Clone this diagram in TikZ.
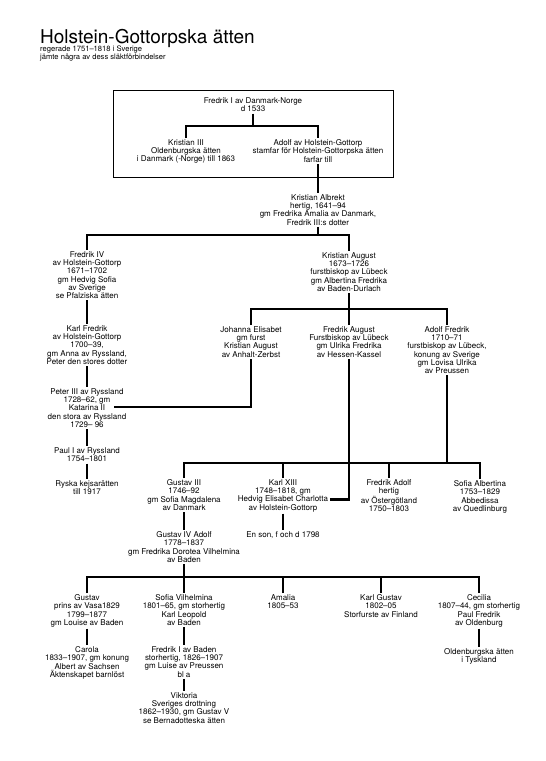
\documentclass[tikz,border=0pt]{standalone}
\usepackage{fontspec}
\setmainfont{TeX Gyre Heros}
\begin{document}
\begin{tikzpicture}[x=1pt,y=-1pt,
  every node/.style={font=\fontsize{8}{8.2}\selectfont, align=center, inner sep=1.5pt},
  person/.style={anchor=north},
  conn/.style={line width=2.8pt},
  frame/.style={draw, line width=0.9pt, minimum width=280pt, minimum height=87pt, inner sep=0pt}]
\useasboundingbox (0,0) rectangle (546,761);
% title
\node[anchor=base west, inner sep=0pt, font=\fontsize{19}{20}\selectfont] (title) at (40,43) {Holstein-Gottorpska ätten};
\node[anchor=north west, inner sep=0pt, align=left, font=\fontsize{7.6}{7.4}\selectfont] (subtitle) at (40,46) {regerade 1751–1818 i Sverige\\jämte några av dess släktförbindelser};
% frame
\node[frame] (box) at (253,133.5) {};
% bar levels
\coordinate (b1) at (0,126);
\coordinate (b2) at (0,235);
\coordinate (b3) at (0,309);
\coordinate (b4) at (0,463);
\coordinate (b5) at (0,577);
% people
\node[person] (fredrikI) at (253,96) {Fredrik I av Danmark-Norge\\d 1533};
\node[person] (kristian3) at (186,138) {Kristian III\\Oldenburgska ätten\\i Danmark (-Norge) till 1863};
\node[person] (adolf) at (318,138) {Adolf av Holstein-Gottorp\\stamfar för Holstein-Gottorpska ätten\\farfar till};
\node[person] (kalbrekt) at (318,193) {Kristian Albrekt\\hertig, 1641–94\\gm Fredrika Amalia av Danmark,\\Fredrik III:s dotter};
\node[person] (fredrik4) at (87,250) {Fredrik IV\\av Holstein-Gottorp\\1671–1702\\gm Hedvig Sofia\\av Sverige\\se Pfalziska ätten};
\node[person] (kaugust) at (349,251) {Kristian August\\1673–1726\\furstbiskop av Lübeck\\gm Albertina Fredrika\\av Baden-Durlach};
\node[person] (karlfredrik) at (87,324) {Karl Fredrik\\av Holstein-Gottorp\\1700–39,\\gm Anna av Ryssland,\\Peter den stores dotter};
\node[person] (johanna) at (251,325) {Johanna Elisabet\\gm furst\\Kristian August\\av Anhalt-Zerbst};
\node[person] (faugust) at (349,325) {Fredrik August\\Furstbiskop av Lübeck\\gm Ulrika Fredrika\\av Hessen-Kassel};
\node[person] (afredrik) at (447,325) {Adolf Fredrik\\1710–71\\furstbiskop av Lübeck,\\konung av Sverige\\gm Lovisa Ulrika\\av Preussen};
\node[person] (peter3) at (87,387) {Peter III av Ryssland\\1728–62, gm\\Katarina II\\den stora av Ryssland\\1729– 96};
\node[person] (paul1) at (87,446) {Paul I av Ryssland\\1754–1801};
\node[person] (ryska) at (87,479) {Ryska kejsarätten\\till 1917};
\node[person] (gustav3) at (184,478) {Gustav III\\1746–92\\gm Sofia Magdalena\\av Danmark};
\node[person] (karl13) at (283,478) {Karl XIII\\1748–1818, gm\\Hedvig Elisabet Charlotta\\av Holstein-Gottorp};
\node[person] (fadolf) at (389,478) {Fredrik Adolf\\hertig\\av Östergötland\\1750–1803};
\node[person] (sofiaalb) at (480,479) {Sofia Albertina\\1753–1829\\Abbedissa\\av Quedlinburg};
\node[person] (gustav4) at (184,530) {Gustav IV Adolf\\1778–1837\\gm Fredrika Dorotea Vilhelmina\\av Baden};
\node[person] (enson) at (283,530) {En son, f och d 1798};
\node[person] (gustav) at (87,593) {Gustav\\prins av Vasa1829\\1799–1877\\gm Louise av Baden};
\node[person] (sofiav) at (184,593) {Sofia Vilhelmina\\1801–65, gm storhertig\\Karl Leopold\\av Baden};
\node[person] (amalia) at (283,593) {Amalia\\1805–53};
\node[person] (karlgustav) at (381,593) {Karl Gustav\\1802–05\\Storfurste av Finland};
\node[person] (cecilia) at (479,593) {Cecilia\\1807–44, gm storhertig\\Paul Fredrik\\av Oldenburg};
\node[person] (carola) at (87,645) {Carola\\1833–1907, gm konung\\Albert av Sachsen\\Äktenskapet barnlöst};
\node[person] (fredrikbaden) at (184,645) {Fredrik I av Baden\\storhertig, 1826–1907\\gm Luise av Preussen\\bl a};
\node[person] (viktoria) at (184,691) {Viktoria\\Sveriges drottning\\1862–1930, gm Gustav V\\se Bernadotteska ätten};
\node[person] (oldenburg) at (479,647) {Oldenburgska ätten\\i Tyskland};
% free ends
\coordinate (kat) at (114,407);
\coordinate (charl) at ([yshift=-4pt]karl13.east);
% connectors
\draw[conn] (fredrikI.south) -- (fredrikI.south |- b1);
\draw[conn] (kristian3.north) -- (kristian3.north |- b1) -- (adolf.north |- b1) -- (adolf.north);
\draw[conn] (adolf.south) -- (kalbrekt.north);
\draw[conn] (kalbrekt.south) -- (kalbrekt.south |- b2);
\draw[conn] (fredrik4.north) -- (fredrik4.north |- b2) -- (kaugust.north |- b2) -- (kaugust.north);
\draw[conn] (fredrik4.south) -- (karlfredrik.north);
\draw[conn] (karlfredrik.south) -- (peter3.north);
\draw[conn] (peter3.south) -- (paul1.north);
\draw[conn] (paul1.south) -- (ryska.north);
\draw[conn] (kaugust.south) -- (faugust.north);
\draw[conn] (johanna.north) -- (johanna.north |- b3) -- (afredrik.north |- b3) -- (afredrik.north);
\draw[conn] (kat) -| (johanna.south);
\draw[conn] (faugust.south) |- (charl);
\draw[conn] (afredrik.south) -- (afredrik.south |- b4);
\draw[conn] (gustav3.north) -- (gustav3.north |- b4) -- (sofiaalb.north |- b4) -- (sofiaalb.north);
\draw[conn] (karl13.north) -- (karl13.north |- b4);
\draw[conn] (fadolf.north) -- (fadolf.north |- b4);
\draw[conn] (gustav3.south) -- (gustav4.north);
\draw[conn] (karl13.south) -- (enson.north);
\draw[conn] (gustav4.south) -- (gustav4.south |- b5);
\draw[conn] (gustav.north) -- (gustav.north |- b5) -- (cecilia.north |- b5) -- (cecilia.north);
\draw[conn] (sofiav.north) -- (sofiav.north |- b5);
\draw[conn] (amalia.north) -- (amalia.north |- b5);
\draw[conn] (karlgustav.north) -- (karlgustav.north |- b5);
\draw[conn] (gustav.south) -- (carola.north);
\draw[conn] (sofiav.south) -- (fredrikbaden.north);
\draw[conn] (fredrikbaden.south) -- (viktoria.north);
\draw[conn] (cecilia.south) -- (oldenburg.north);
\end{tikzpicture}
\end{document}
